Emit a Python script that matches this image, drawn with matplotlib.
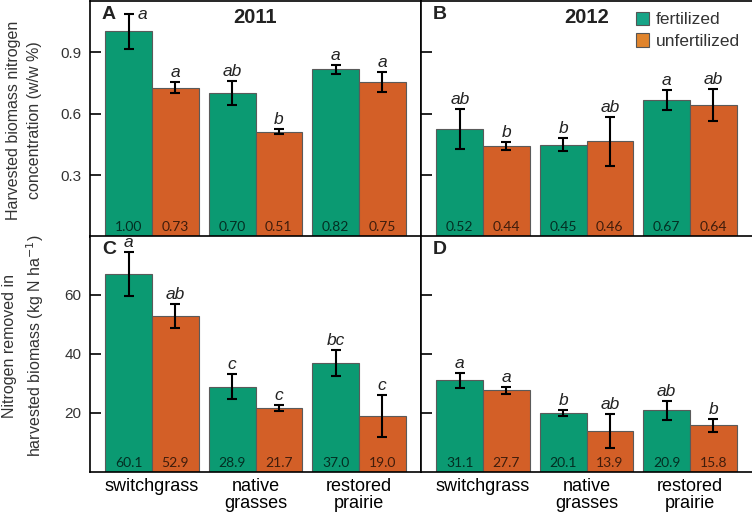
import numpy as np
import matplotlib.pyplot as plt
from matplotlib.patches import Patch

plt.rcParams["font.family"] = ["Liberation Sans", "DejaVu Sans"]

# ---- data ----
categories = ["switchgrass", "native\ngrasses", "restored\nprairie"]

# nitrogen concentration (w/w %)
conc_2011_fert = [1.00, 0.70, 0.816]
conc_2011_fert_err = [0.083, 0.057, 0.023]
conc_2011_unfert = [0.727, 0.511, 0.754]
conc_2011_unfert_err = [0.026, 0.012, 0.050]
conc_2012_fert = [0.524, 0.449, 0.666]
conc_2012_fert_err = [0.097, 0.031, 0.050]
conc_2012_unfert = [0.441, 0.464, 0.642]
conc_2012_unfert_err = [0.019, 0.120, 0.077]

# nitrogen removed (kg N / ha)
rem_2011_fert = [67.2, 28.9, 36.9]
rem_2011_fert_err = [7.4, 4.2, 4.4]
rem_2011_unfert = [52.9, 21.7, 19.0]
rem_2011_unfert_err = [4.2, 0.9, 7.1]
rem_2012_fert = [31.1, 20.0, 20.9]
rem_2012_fert_err = [2.5, 1.15, 3.3]
rem_2012_unfert = [27.7, 13.9, 15.8]
rem_2012_unfert_err = [1.1, 5.8, 2.3]

# numbers printed at the bottom of the bars
val_A = (["1.00", "0.70", "0.82"], ["0.73", "0.51", "0.75"])
val_B = (["0.52", "0.45", "0.67"], ["0.44", "0.46", "0.64"])
val_C = (["60.1", "28.9", "37.0"], ["52.9", "21.7", "19.0"])
val_D = (["31.1", "20.1", "20.9"], ["27.7", "13.9", "15.8"])

# significance letters
let_A = (["a", "ab", "a"], ["a", "b", "a"])
let_B = (["ab", "b", "a"], ["b", "ab", "ab"])
let_C = (["a", "c", "bc"], ["ab", "c", "c"])
let_D = (["a", "b", "ab"], ["a", "ab", "b"])

GREEN = "#0b9a72"
ORANGE = "#d35f27"
W = 0.451

fig = plt.figure(figsize=(7.52, 5.2), dpi=100)
L, MID = 90 / 752, 421 / 752
top_h = 236 / 520
bot_y = 48 / 520
axA = fig.add_axes([L, 1 - top_h - 0.7 / 520, MID - L, top_h])
axB = fig.add_axes([MID, 1 - top_h - 0.7 / 520, 1 - MID, top_h])
axC = fig.add_axes([L, bot_y, MID - L, top_h])
axD = fig.add_axes([MID, bot_y, 1 - MID, top_h])


def draw_panel(ax, fert, fert_err, unfert, unfert_err, vals, lets, ylim,
               side_first=False):
    x = np.arange(len(categories))
    xs = (x - W / 2, x + W / 2)
    for k, (h, e, c) in enumerate([(fert, fert_err, GREEN),
                                   (unfert, unfert_err, ORANGE)]):
        ax.bar(xs[k], h, width=W, color=c, edgecolor="#5a5a5a", linewidth=0.8,
               zorder=2)
        ax.errorbar(xs[k], h, yerr=e, fmt="none", ecolor="black",
                    elinewidth=1.5, capsize=3.5, capthick=1.5, zorder=3)
        for i in range(len(x)):
            ax.annotate(vals[k][i], (xs[k][i], 0), xytext=(0, 6.8),
                        textcoords="offset points", ha="center", va="center",
                        fontsize=10, family="Lato", color="black", alpha=0.7)
            top = h[i] + e[i]
            if side_first and k == 0 and i == 0:
                ax.annotate(lets[k][i], (xs[k][i], top), xytext=(9.5, 0),
                            textcoords="offset points", ha="center",
                            va="center", fontsize=12.5, style="italic",
                            color="#222222")
            else:
                ax.annotate(lets[k][i], (xs[k][i], top), xytext=(0, 6.8),
                            textcoords="offset points", ha="center",
                            va="center", fontsize=12.5, style="italic",
                            color="#222222")
    ax.set_xlim(-0.6, 2.6)
    ax.set_ylim(*ylim)
    ax.tick_params(axis="y", direction="in", length=8, width=1.2, pad=6,
                   labelsize=11, labelcolor="#333333")
    ax.tick_params(axis="x", length=0, pad=4, labelsize=13)
    for s in ax.spines.values():
        s.set_linewidth(1.2)


draw_panel(axA, conc_2011_fert, conc_2011_fert_err, conc_2011_unfert,
           conc_2011_unfert_err, val_A, let_A, (0, 1.15), side_first=True)
draw_panel(axB, conc_2012_fert, conc_2012_fert_err, conc_2012_unfert,
           conc_2012_unfert_err, val_B, let_B, (0, 1.15))
draw_panel(axC, rem_2011_fert, rem_2011_fert_err, rem_2011_unfert,
           rem_2011_unfert_err, val_C, let_C, (0, 80))
draw_panel(axD, rem_2012_fert, rem_2012_fert_err, rem_2012_unfert,
           rem_2012_unfert_err, val_D, let_D, (0, 80))

for ax in (axA, axB):
    ax.set_yticks([0.3, 0.6, 0.9])
    ax.set_yticklabels(["0.3", "0.6", "0.9"])
    ax.set_xticks([])
for ax in (axC, axD):
    ax.set_yticks([20, 40, 60])
    ax.set_xticks(np.arange(len(categories)))
    ax.set_xticklabels(categories, linespacing=1.05)
for ax in (axB, axD):
    ax.tick_params(axis="y", labelleft=False)
    ax.spines["right"].set_visible(False)

for ax, letter in zip((axA, axB, axC, axD), "ABCD"):
    ax.text(19 / 331, 1 - 14 / 236, letter, transform=ax.transAxes,
            ha="center", va="center", fontsize=14, fontweight="bold",
            color="#222222")
axA.text(0.5, 1 - 17 / 236, "2011", transform=axA.transAxes, ha="center",
         va="center", fontsize=14.5, fontweight="bold", color="#222222")
axB.text(0.5, 1 - 17 / 236, "2012", transform=axB.transAxes, ha="center",
         va="center", fontsize=14.5, fontweight="bold", color="#222222")

handles = [Patch(facecolor="#17a487", edgecolor="#555555", linewidth=0.8),
           Patch(facecolor="#e0842c", edgecolor="#555555", linewidth=0.8)]
axB.legend(handles, ["fertilized", "unfertilized"], loc="upper right",
           bbox_to_anchor=(1.01, 1.02), frameon=False, fontsize=12.5,
           handlelength=0.8, handleheight=0.8, handletextpad=0.35,
           labelspacing=0.35, labelcolor="#333333")

fig.text(24 / 752, 1 - 120 / 520,
         "Harvested biomass nitrogen\nconcentration (w/w %)",
         rotation=90, ha="center", va="center", fontsize=11.5,
         linespacing=1.45, color="#333333")
fig.text(24 / 752, 1 - 346 / 520,
         "Nitrogen removed in\nharvested biomass (kg N ha$^{-1}$)",
         rotation=90, ha="center", va="center", fontsize=11.5,
         linespacing=1.45, color="#333333")

fig.savefig("out.png", dpi=100)
